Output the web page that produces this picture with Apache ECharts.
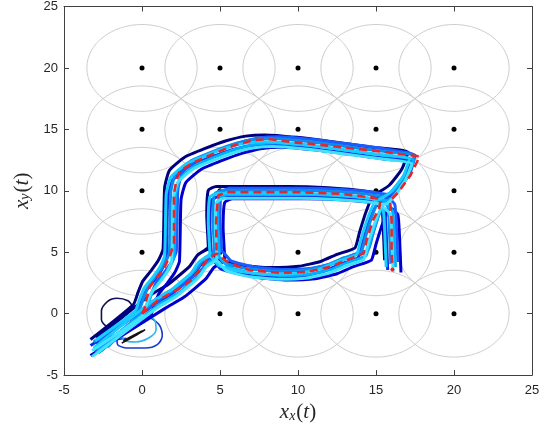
<!DOCTYPE html>
<html><head><meta charset="utf-8">
<script src="https://cdn.jsdelivr.net/npm/echarts@6/dist/echarts.min.js"></script>
<style>html,body{margin:0;padding:0;background:#fff}#c{width:550px;height:428px}</style>
</head><body><div id="c"></div><script>
// ---- data ----
const axisTicks = [-5, 0, 5, 10, 15, 20, 25];
const centerX = [0, 5, 10, 15, 20];
const centerY = [0, 5, 10, 15, 20];
const circleRadius = 3.5355;

const traj1 = [[-3.3,-2.1],[-0.55,0.75],[-0.25,1.75],[0.05,2.65],[0.55,3.45],[1.05,4.35],[1.35,5.25],[1.45,10.25],[1.75,11.65],[2.75,12.75],[4.05,13.45],[5.35,14.05],[6.65,14.45],[7.85,14.55],[9.95,14.35],[12.45,13.95],[14.75,13.55],[17.05,13.15],[16.65,11.75],[15.85,10.45],[15.05,9.85],[13.85,10.05],[11.95,10.25],[9.45,10.35],[6.45,10.35],[4.75,10.35],[4.25,10.05],[4.15,7.95],[4.25,5.45],[3.55,4.75],[3.05,3.85],[1.65,2.35],[0.45,1.45],[-2.9,-2.0],[0.45,1.45],[1.65,2.35],[3.05,3.85],[3.55,4.75],[4.25,5.25],[4.85,4.45],[6.35,3.95],[8.25,3.75],[10.05,3.85],[11.45,4.25],[12.55,4.85],[13.65,5.35],[13.95,6.65],[14.35,8.25],[14.85,9.65],[15.35,9.05],[15.45,7.45],[15.55,4.35]];
const traj2 = [[-2.9,-2.5],[0.5,-0.25],[0.8,0.75],[1.1,1.65],[1.6,2.45],[2.1,3.35],[2.4,4.25],[2.5,9.25],[2.8,10.65],[3.8,11.75],[5.1,12.45],[6.4,13.05],[7.7,13.45],[8.9,13.55],[11.0,13.35],[13.5,12.95],[15.8,12.55],[17.3,12.4],[16.8,11.2],[16.0,9.9],[15.6,9.0],[14.9,9.05],[13.0,9.25],[10.5,9.35],[7.5,9.35],[5.8,9.35],[5.3,9.05],[5.2,6.95],[5.3,4.45],[4.6,3.75],[4.1,2.85],[2.7,1.35],[1.5,0.45],[-3.3,-3.4],[1.5,0.45],[2.7,1.35],[4.1,2.85],[4.6,3.75],[5.3,4.25],[5.9,3.45],[7.4,2.95],[9.3,2.75],[11.1,2.85],[12.5,3.25],[13.6,3.85],[14.7,4.35],[15.0,5.65],[15.4,7.25],[15.9,8.65],[16.4,8.05],[16.5,6.45],[16.6,3.35]];
const traj3 = [[-3.3,-2.6],[-0.35,-0.05],[-0.05,0.95],[0.25,1.85],[0.75,2.65],[1.25,3.55],[1.55,4.45],[1.65,9.45],[1.95,10.85],[2.95,11.95],[4.25,12.65],[5.55,13.25],[6.85,13.65],[8.05,13.75],[10.15,13.55],[12.65,13.15],[14.95,12.75],[17.25,12.35],[16.85,10.95],[16.05,9.65],[15.25,9.05],[14.05,9.25],[12.15,9.45],[9.65,9.55],[6.65,9.55],[4.95,9.55],[4.45,9.25],[4.35,7.15],[4.45,4.65],[3.75,3.95],[3.25,3.05],[1.85,1.55],[0.65,0.65],[-2.6,-3.0],[0.65,0.65],[1.85,1.55],[3.25,3.05],[3.75,3.95],[4.45,4.45],[5.05,3.65],[6.55,3.15],[8.45,2.95],[10.25,3.05],[11.65,3.45],[12.75,4.05],[13.85,4.55],[14.15,5.85],[14.55,7.45],[15.05,8.85],[15.55,8.25],[15.65,6.65],[15.75,3.55]];
const traj4 = [[-2.8,-2.2],[0.3,0.6],[0.6,1.6],[0.9,2.5],[1.4,3.3],[1.9,4.2],[2.2,5.1],[2.3,10.1],[2.6,11.5],[3.6,12.6],[4.9,13.3],[6.2,13.9],[7.5,14.3],[8.7,14.4],[10.8,14.2],[13.3,13.8],[15.6,13.4],[17.5,12.9],[17.2,11.5],[16.5,10.2],[15.9,9.7],[14.7,9.9],[12.8,10.1],[10.3,10.2],[7.3,10.2],[5.6,10.2],[5.1,9.9],[5.0,7.8],[5.1,5.3],[4.4,4.6],[3.9,3.7],[2.5,2.2],[1.3,1.3],[-3.0,-3.1],[1.3,1.3],[2.5,2.2],[3.9,3.7],[4.4,4.6],[5.1,5.1],[5.7,4.3],[7.2,3.8],[9.1,3.6],[10.9,3.7],[12.3,4.1],[13.4,4.7],[14.5,5.2],[14.8,6.5],[15.2,8.1],[15.7,9.5],[16.2,8.9],[16.3,7.3],[16.4,4.2]];
const traj5 = [[-3.1,-2.3],[-0.15,0.45],[0.15,1.45],[0.45,2.35],[0.95,3.15],[1.45,4.05],[1.75,4.95],[1.85,9.95],[2.15,11.35],[3.15,12.45],[4.45,13.15],[5.75,13.75],[7.05,14.15],[8.25,14.25],[10.35,14.05],[12.85,13.65],[15.15,13.25],[17.45,12.85],[17.05,11.45],[16.25,10.15],[15.45,9.55],[14.25,9.75],[12.35,9.95],[9.85,10.05],[6.85,10.05],[5.15,10.05],[4.65,9.75],[4.55,7.65],[4.65,5.15],[3.95,4.45],[3.45,3.55],[2.05,2.05],[0.85,1.15],[-2.2,-2.7],[0.85,1.15],[2.05,2.05],[3.45,3.55],[3.95,4.45],[4.65,4.95],[5.25,4.15],[6.75,3.65],[8.65,3.45],[10.45,3.55],[11.85,3.95],[12.95,4.55],[14.05,5.05],[14.35,6.35],[14.75,7.95],[15.25,9.35],[15.75,8.75],[15.85,7.15],[15.95,4.05]];
const traj6 = [[-2.9,-2.9],[0.15,0.1],[0.45,1.1],[0.75,2.0],[1.25,2.8],[1.75,3.7],[2.05,4.6],[2.15,9.6],[2.45,11.0],[3.45,12.1],[4.75,12.8],[6.05,13.4],[7.35,13.8],[8.55,13.9],[10.65,13.7],[13.15,13.3],[15.45,12.9],[17.4,12.5],[17.0,11.1],[16.3,9.8],[15.75,9.2],[14.55,9.4],[12.65,9.6],[10.15,9.7],[7.15,9.7],[5.45,9.7],[4.95,9.4],[4.85,7.3],[4.95,4.8],[4.25,4.1],[3.75,3.2],[2.35,1.7],[1.15,0.8],[-2.8,-3.2],[1.15,0.8],[2.35,1.7],[3.75,3.2],[4.25,4.1],[4.95,4.6],[5.55,3.8],[7.05,3.3],[8.95,3.1],[10.75,3.2],[12.15,3.6],[13.25,4.2],[14.35,4.7],[14.65,6.0],[15.05,7.6],[15.55,9.0],[16.05,8.4],[16.15,6.8],[16.25,3.8]];
const traj7 = [[-3.0,-2.2],[-0.45,0.2],[-0.15,1.2],[0.15,2.1],[0.65,2.9],[1.15,3.8],[1.45,4.7],[1.55,9.7],[1.85,11.1],[2.85,12.2],[4.15,12.9],[5.45,13.5],[6.75,13.9],[7.95,14.0],[10.05,13.8],[12.55,13.4],[14.85,13.0],[17.15,12.6],[16.75,11.2],[15.95,9.9],[15.15,9.3],[13.95,9.5],[12.05,9.7],[9.55,9.8],[6.55,9.8],[4.85,9.8],[4.35,9.5],[4.25,7.4],[4.35,4.9],[3.65,4.2],[3.15,3.3],[1.75,1.8],[0.55,0.9],[-3.1,-2.8],[0.55,0.9],[1.75,1.8],[3.15,3.3],[3.65,4.2],[4.35,4.7],[4.95,3.9],[6.45,3.4],[8.35,3.2],[10.15,3.3],[11.55,3.7],[12.65,4.3],[13.75,4.8],[14.05,6.1],[14.45,7.7],[14.95,9.1],[15.45,8.5],[15.55,6.9],[15.65,3.8]];
const traj8 = [[-3.2,-3.0],[0.0,-0.2],[0.3,0.8],[0.6,1.7],[1.1,2.5],[1.6,3.4],[1.9,4.3],[2.0,9.3],[2.3,10.7],[3.3,11.8],[4.6,12.5],[5.9,13.1],[7.2,13.5],[8.4,13.6],[10.5,13.4],[13.0,13.0],[15.3,12.6],[17.3,12.2],[16.9,10.9],[16.2,9.6],[15.6,8.9],[14.4,9.1],[12.5,9.3],[10.0,9.4],[7.0,9.4],[5.3,9.4],[4.8,9.1],[4.7,7.0],[4.8,4.5],[4.1,3.8],[3.6,2.9],[2.2,1.4],[1.0,0.5],[-3.2,-3.5],[1.0,0.5],[2.2,1.4],[3.6,2.9],[4.1,3.8],[4.8,4.3],[5.4,3.5],[6.9,3.0],[8.8,2.8],[10.6,2.9],[12.0,3.3],[13.1,3.9],[14.2,4.4],[14.5,5.7],[14.9,7.3],[15.4,8.7],[15.9,8.1],[16.0,6.5],[16.1,3.4]];

const loopNavy = [[-0.6,0.6],[-0.9,1.05],[-1.6,1.25],[-2.2,1.0],[-2.6,0.2],[-2.6,-0.5],[-2.3,-1.0],[-1.8,-1.1]];
const loopBlue = [[0.5,-0.3],[1.1,-0.9],[1.3,-1.8],[1.0,-2.5],[0.2,-2.8],[-0.8,-2.8],[-1.5,-2.6],[-1.6,-2.2],[-1.0,-2.0]];
const loopCyan = [[0.2,-0.1],[0.8,-0.5],[0.9,-1.3],[0.4,-2.0],[-0.4,-2.3],[-1.1,-2.2],[-1.3,-1.7]];
const loopBlack = [[-1.3,-2.4],[-0.3,-1.7],[0.2,-1.3],[-0.9,-2.0],[0.0,-1.4],[-1.2,-2.2]];

const refOuter = [[0,0],[0.17,0.43],[0.3,1.25],[0.5,2.2],[1.0,3.0],[1.46,3.8],[1.8,4.76],[2.05,5.7],[2.05,9.8],[2.2,10.8],[2.42,11.6],[3.3,12.3],[4.56,13.0],[5.84,13.67],[7.13,14.13],[8.2,14.2],[9.7,13.95],[11.0,13.8],[13.1,13.5],[15.3,13.2],[17.4,12.86],[17.8,12.8],[17.2,11.24],[16.44,9.89],[15.9,9.2],[16.0,7.6],[16.0,6.2],[16.0,5.2],[16.05,3.8]];
const refInner = [[0,0],[1.03,1.1],[2.2,1.9],[3.17,2.73],[3.7,3.54],[4.14,4.35],[4.78,4.9],[5.63,4.08],[6.92,3.54],[8.84,3.32],[10.56,3.4],[12.05,3.81],[13.1,4.35],[14.2,4.9],[14.4,5.97],[14.8,7.6],[15.2,8.54],[15.3,9.35],[14.4,9.5],[12.7,9.76],[9.9,9.89],[5.4,9.89],[4.88,9.62],[4.75,7.5],[4.78,4.9]];
const refEnd = [[16.05,3.6]];

const trajectories = [traj1, traj2, traj3, traj4, traj5, traj6, traj7, traj8];
const trajColors = ['#00007f', '#0000cd', '#0a2ae8', '#1a5cff', '#0a8cf0', '#00b0ff', '#18ccff', '#40e2ff'];
const loops = [loopNavy, loopBlue, loopCyan, loopBlack];
const loopColors = ['#10105a', '#1a3ad0', '#2ab8f0', '#111111'];

// ---- build ----
const centers = [];
centerY.forEach(y => centerX.forEach(x => centers.push([x, y])));

const chart = echarts.init(document.getElementById('c'), null, {renderer: 'canvas'});
const axisColor = '#404040';
const labelFont = {color: '#262626', fontSize: 13, fontFamily: 'Liberation Sans, Arial, sans-serif'};
const nameRich = {
  i: {fontFamily: 'Liberation Serif, serif', fontStyle: 'italic', fontSize: 21, color: '#262626'},
  s: {fontFamily: 'Liberation Serif, serif', fontStyle: 'italic', fontSize: 14, color: '#262626', verticalAlign: 'bottom', padding: [0, 1, 0, 0]},
  n: {fontFamily: 'Liberation Serif, serif', fontSize: 21, color: '#262626'}
};
function mkAxis(pos, extra) {
  return Object.assign({
    type: 'value', min: -5, max: 25, interval: 5, position: pos,
    axisLine: {show: true, onZero: false, lineStyle: {color: axisColor, width: 1}},
    axisTick: {show: true, inside: true, length: 5, lineStyle: {color: axisColor}},
    axisLabel: {show: false},
    splitLine: {show: false}
  }, extra);
}

const series = [];
series.push({
  type: 'custom', xAxisIndex: 0, yAxisIndex: 0, data: centers, z: 1, silent: true,
  renderItem: (params, api) => {
    const c = api.coord([api.value(0), api.value(1)]);
    const s = api.size([circleRadius, circleRadius]);
    return {type: 'ellipse', shape: {cx: c[0], cy: c[1], rx: s[0], ry: s[1]},
      style: {fill: null, stroke: '#cfcfcf', lineWidth: 1}};
  }
});
series.push({type: 'scatter', data: centers, symbolSize: 5, itemStyle: {color: '#000', opacity: 1}, z: 2, silent: true});
loops.forEach((d, k) => series.push({type: 'line', data: d, showSymbol: false, symbol: 'none', smooth: 0.3,
  lineStyle: {color: loopColors[k], width: 1.6}, z: 3, silent: true}));
trajectories.forEach((d, k) => series.push({type: 'line', data: d, showSymbol: false, symbol: 'none', smooth: 0.15,
  lineStyle: {color: trajColors[k], width: 3}, z: 4, silent: true}));
[refOuter, refInner].forEach(d => series.push({type: 'line', data: d, showSymbol: false, symbol: 'none',
  lineStyle: {color: '#e8262a', width: 2.6, type: [8, 5]}, z: 6, silent: true}));
series.push({type: 'scatter', data: refEnd, symbolSize: 4, itemStyle: {color: '#e8262a', opacity: 1}, z: 6, silent: true});

chart.setOption({
  animation: false,
  backgroundColor: '#fff',
  grid: {left: 64, right: 18, top: 5, bottom: 52, containLabel: false},
  xAxis: [
    mkAxis('bottom', {axisLabel: Object.assign({show: true, margin: 9}, labelFont),
      name: '{i|x}{s|x}{n|(}{i|t}{n|)}', nameLocation: 'middle', nameGap: 22,
      nameTextStyle: {rich: nameRich}}),
    mkAxis('top', {})
  ],
  yAxis: [
    mkAxis('left', {axisLabel: Object.assign({show: true, margin: 6}, labelFont),
      name: '{i|x}{s|y}{n|(}{i|t}{n|)}', nameLocation: 'middle', nameGap: 28, nameRotate: 90,
      nameTextStyle: {rich: nameRich}}),
    mkAxis('right', {})
  ],
  series: series
});
</script></body></html>
